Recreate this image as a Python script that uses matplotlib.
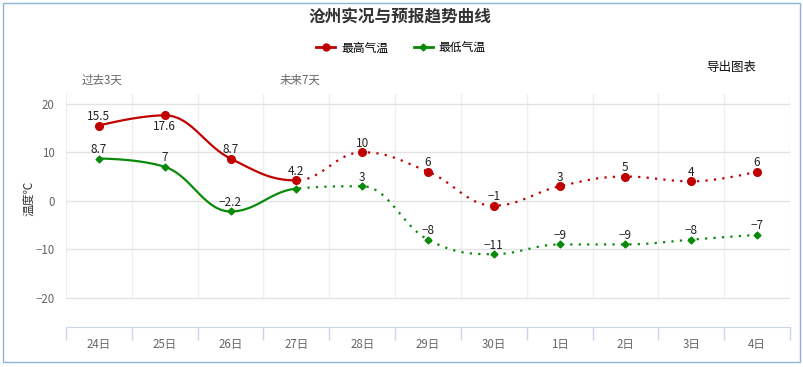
import numpy as np
import matplotlib.pyplot as plt
from matplotlib.patches import Rectangle

plt.rcParams['font.family'] = ['Noto Sans CJK SC', 'DejaVu Sans']

days = ['24日', '25日', '26日', '27日', '28日', '29日', '30日', '1日', '2日', '3日', '4日']
high = [15.5, 17.6, 8.7, 4.2, 10, 6, -1, 3, 5, 4, 6]
low = [8.7, 7, -2.2, 2.5, 3, -8, -11, -9, -9, -8, -7]
n_past = 4  # 24-27日 are observed values

red = '#c00000'
green = '#0a8a0a'


def spline(xs, ys, steps=30):
    # highcharts-like spline through the points
    xs = np.asarray(xs, float)
    ys = np.asarray(ys, float)
    n = len(xs)
    lc = [(xs[i], ys[i]) for i in range(n)]
    rc = [(xs[i], ys[i]) for i in range(n)]
    sm, den = 1.5, 2.5
    for i in range(1, n - 1):
        x, y = xs[i], ys[i]
        lx = (sm * x + xs[i - 1]) / den
        ly = (sm * y + ys[i - 1]) / den
        rx = (sm * x + xs[i + 1]) / den
        ry = (sm * y + ys[i + 1]) / den
        if rx != lx:
            corr = (ry - ly) * (rx - x) / (rx - lx) + y - ry
            ly += corr
            ry += corr
        if ly > ys[i - 1] and ly > y:
            ly = max(ys[i - 1], y); ry = 2 * y - ly
        elif ly < ys[i - 1] and ly < y:
            ly = min(ys[i - 1], y); ry = 2 * y - ly
        if ry > ys[i + 1] and ry > y:
            ry = max(ys[i + 1], y); ly = 2 * y - ry
        elif ry < ys[i + 1] and ry < y:
            ry = min(ys[i + 1], y); ly = 2 * y - ry
        lc[i] = (lx, ly)
        rc[i] = (rx, ry)
    px, py = [], []
    t = np.linspace(0, 1, steps)
    for i in range(n - 1):
        p0 = np.array([xs[i], ys[i]])
        p1 = np.array(rc[i])
        p2 = np.array(lc[i + 1])
        p3 = np.array([xs[i + 1], ys[i + 1]])
        b = ((1 - t) ** 3)[:, None] * p0 + (3 * (1 - t) ** 2 * t)[:, None] * p1 \
            + (3 * (1 - t) * t ** 2)[:, None] * p2 + (t ** 3)[:, None] * p3
        px.extend(b[:, 0]); py.extend(b[:, 1])
    return np.array(px), np.array(py)


fig = plt.figure(figsize=(8.04, 3.67), dpi=100)
ax = fig.add_axes([66 / 804, 1 - 327 / 367, 724 / 804, 233 / 367])
x = np.arange(len(days))

for vals, col, mk, ms in [(high, red, 'o', 5.5), (low, green, 'D', 3.5)]:
    sx, sy = spline(x, vals)
    past = sx <= n_past - 1
    ax.plot(sx[past], sy[past], color=col, lw=1.6, solid_capstyle='round', zorder=3)
    ax.plot(sx[~past], sy[~past], color=col, lw=1.6, linestyle=(0, (1, 2.8)),
            dash_capstyle='butt', zorder=3)
    ax.plot(x, vals, linestyle='none', marker=mk, color=col, ms=ms, zorder=4)

def fmt(v):
    s = ('%g' % v).replace('-', '\u2212')
    return s

for i, v in enumerate(high):
    dy = -11 if i == 1 else 9
    ax.annotate(fmt(v), (i, v), xytext=(0, dy), textcoords='offset pixels',
                ha='center', va='center', fontsize=8.5, color='#222', zorder=5)
for i, v in enumerate(low):
    if i == 3:
        continue
    ax.annotate(fmt(v), (i, v), xytext=(0, 9), textcoords='offset pixels',
                ha='center', va='center', fontsize=8.5, color='#222', zorder=5)

ax.set_xlim(-0.5, len(days) - 0.5)
ax.set_ylim(-26, 22)
ax.set_yticks([-20, -10, 0, 10, 20])
ax.set_yticklabels(['\u221220', '\u221210', '0', '10', '20'])
ax.set_xticks(x)
ax.set_xticklabels(days)
ax.set_xticks(np.arange(-0.5, len(days)), minor=True)
ax.tick_params(axis='x', which='major', length=0, pad=8, labelsize=8.3, labelcolor='#666')
ax.tick_params(axis='x', which='minor', length=9, color='#ccd6eb', width=1)
ax.tick_params(axis='y', length=0, pad=8, labelsize=8.3, labelcolor='#666')
for b in np.arange(-0.5, len(days)):
    ax.plot([b, b], [-20, 22], color='#efefef', lw=1, zorder=1)
for g in [-20, -10, 0, 10, 20]:
    ax.axhline(g, color='#e3e3e3', lw=1, zorder=1)
for s in ['top', 'left', 'right']:
    ax.spines[s].set_visible(False)
ax.spines['bottom'].set_color('#ccd6eb')
ax.set_ylabel('温度℃', fontsize=8.5, color='#333')
ax.yaxis.set_label_coords(-31 / 724, 0.55)

fig.text(400 / 804, 1 - 18 / 367, '沧州实况与预报趋势曲线', ha='center', va='center',
         fontsize=12, fontweight='bold', color='#333')
h1, = ax.plot([], [], color=red, lw=2, marker='o', ms=5)
h2, = ax.plot([], [], color=green, lw=2, marker='D', ms=3.5)
fig.legend([h1, h2], ['最高气温', '最低气温'], loc='center', ncol=2,
           bbox_to_anchor=(401 / 804, 1 - 48 / 367), frameon=False, fontsize=8.5,
           handlelength=1.6, handletextpad=0.5, columnspacing=2.2)
fig.text(731 / 804, 1 - 67 / 367, '导出图表', ha='center', va='center', fontsize=9, color='#111')
fig.text(102 / 804, 1 - 80 / 367, '过去3天', ha='center', va='center', fontsize=8.3, color='#666')
fig.text(300 / 804, 1 - 80 / 367, '未来7天', ha='center', va='center', fontsize=8.3, color='#666')
fig.patches.append(Rectangle((3 / 804, 5 / 367), 797 / 804, 359 / 367, transform=fig.transFigure,
                             fill=False, edgecolor='#8fb4d9', lw=1))

fig.savefig('out.png', dpi=100)
